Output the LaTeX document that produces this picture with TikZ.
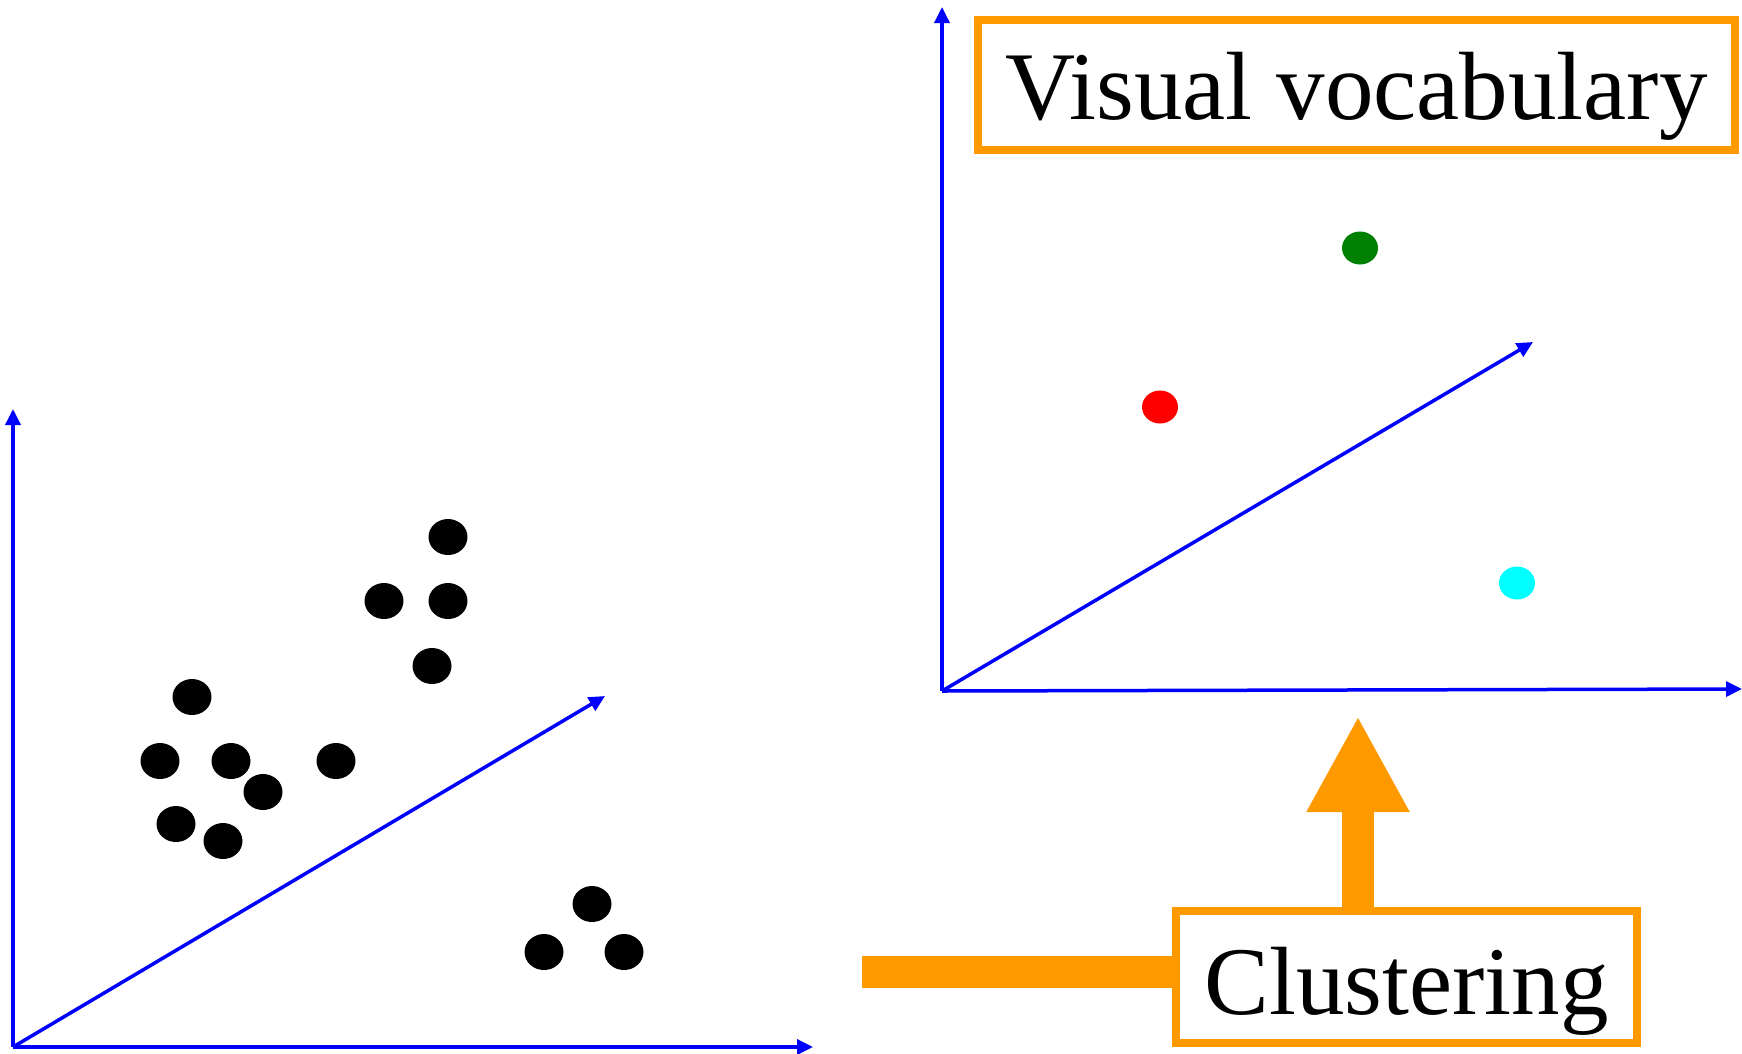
\documentclass[tikz,border=0pt]{standalone}
\usepackage{fontspec}
\setmainfont{Liberation Serif}
\usetikzlibrary{arrows.meta,shapes.geometric,calc}
\definecolor{orng}{RGB}{255,153,0}
\definecolor{dgreen}{RGB}{0,128,0}
\definecolor{cyn}{RGB}{0,255,255}
\tikzset{
  axis/.style={draw=blue, line width=3.5pt, -{Triangle[length=16pt,width=15pt]}},
  dot/.style={ellipse, fill=black, minimum width=39pt, minimum height=36pt, inner sep=0pt},
  cdot/.style={ellipse, fill=#1, minimum width=36pt, minimum height=33pt, inner sep=0pt},
  obox/.style={draw=orng, line width=8pt, fill=white, inner sep=0pt,
    font=\fontsize{97}{97}\selectfont},
  obar/.style={draw=orng, line width=32pt}
}
\begin{document}
\begin{tikzpicture}[x=1pt,y=-1pt]
\useasboundingbox (0,0) rectangle (1742,1053);
% left axes
\coordinate (lo) at (13,1047);
\coordinate (ly) at (13,409);
\coordinate (lx) at (813,1047);
\coordinate (lz) at (605,696);
\draw[axis] (lo) -- (ly);
\draw[axis] (lo) -- (lx);
\draw[axis] (lo) -- (lz);
% right axes
\coordinate (ro) at (942,691);
\coordinate (ry) at (942,7);
\coordinate (rx) at (1742,689);
\coordinate (rz) at (1533,342);
\draw[axis] (ro) -- (ry);
\draw[axis] (ro) -- (rx);
\draw[axis] (ro) -- (rz);
% left points
\node[dot] (p1) at (448,537) {};
\node[dot] (p2) at (384,601) {};
\node[dot] (p3) at (448,601) {};
\node[dot] (p4) at (432,666) {};
\node[dot] (p5) at (192,697) {};
\node[dot] (p6) at (160,761) {};
\node[dot] (p7) at (231,761) {};
\node[dot] (p8) at (336,761) {};
\node[dot] (p9) at (263,792) {};
\node[dot] (p10) at (176,824) {};
\node[dot] (p11) at (223,841) {};
\node[dot] (p12) at (592,904) {};
\node[dot] (p13) at (544,952) {};
\node[dot] (p14) at (624,952) {};
% right centers
\node[cdot=dgreen] (cg) at (1360,248) {};
\node[cdot=red] (cr) at (1160,407) {};
\node[cdot=cyn] (cc) at (1517,583) {};
% boxes
\node[obox, minimum width=757pt, minimum height=130pt, text height=80pt, text depth=12pt] (vv) at (1356.5,85) {Visual vocabulary};
% bars
\coordinate (barstart) at (862,972);
\coordinate (uptip) at (1358,716);
\node[obox, minimum width=461pt, minimum height=132pt, text height=84pt, text depth=10pt] (cl) at (1406.5,977) {Clustering};
\draw[obar] (barstart) -- (barstart -| cl.west);
\draw[obar, -{Triangle[length=96pt,width=96pt]}] (uptip |- cl.north) -- (uptip);
\end{tikzpicture}
\end{document}
